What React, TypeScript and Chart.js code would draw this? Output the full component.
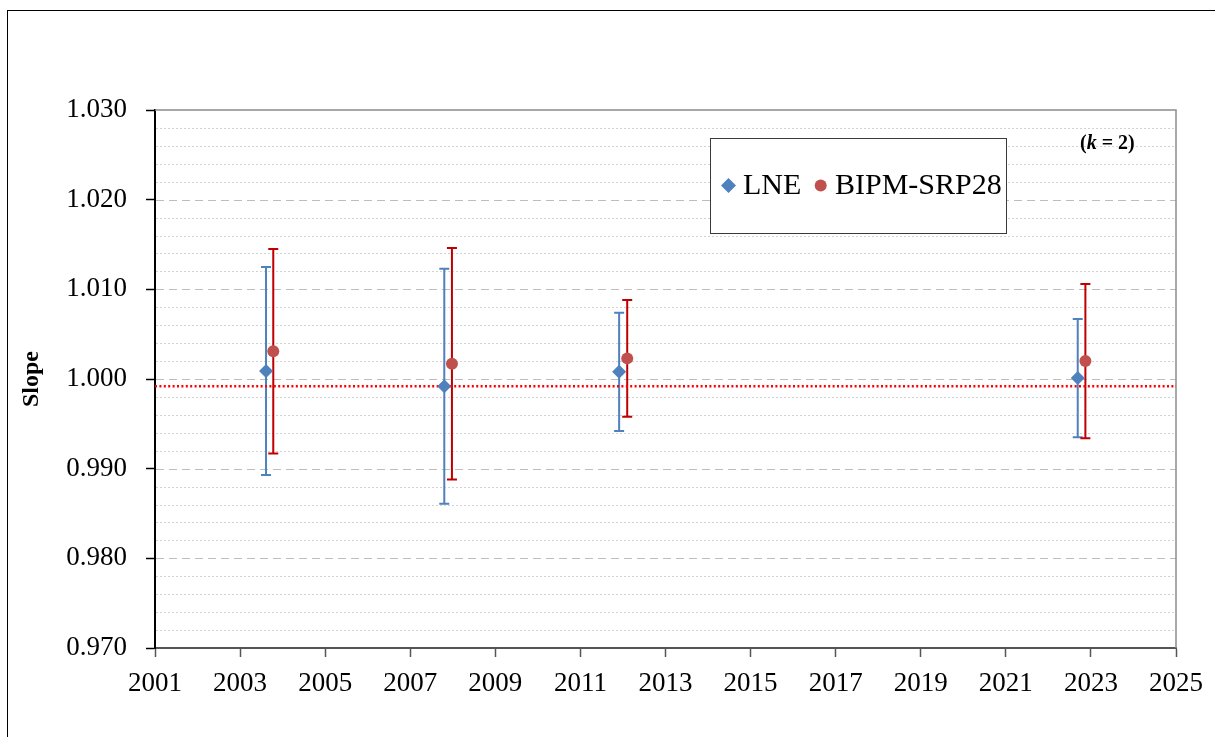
import React, { useEffect, useRef } from "react";
import { Chart, registerables } from "chart.js";

Chart.register(...registerables);

// ---- data ----
const X_MIN = 2001;
const X_MAX = 2025;
const X_STEP = 2;
const Y_MIN = 0.97;
const Y_MAX = 1.03;
const Y_STEP = 0.01;
const Y_MINOR_STEP = 0.002;

const SERIES_LABELS = ["LNE", "BIPM-SRP28"];
const Y_TITLE = "Slope";
const NOTE_PARTS = ["(", "k", " = 2)"];

const LNE_YEARS = [2003.61, 2007.8, 2011.91, 2022.69];
const LNE_SLOPE = [1.0009, 0.9992, 1.0008, 1.0001];
const LNE_U = [0.0116, 0.0131, 0.0066, 0.0066];

const BIPM_YEARS = [2003.78, 2007.98, 2012.1, 2022.87];
const BIPM_SLOPE = [1.0031, 1.0017, 1.0023, 1.002];
const BIPM_U = [0.0114, 0.0129, 0.0065, 0.0086];

const REF_SLOPE = 0.9992;

// ---- styles ----
const FONT = "'Liberation Serif', 'Times New Roman', serif";
const BLUE = "#4F81BD";
const BLUE_BAR = "#4F81BD";
const RED = "#C0504D";
const RED_BAR = "#C00000";

const drawDiamond = (ctx: CanvasRenderingContext2D, x: number, y: number, r: number, color: string) => {
  ctx.beginPath();
  ctx.moveTo(x, y - r);
  ctx.lineTo(x + r, y);
  ctx.lineTo(x, y + r);
  ctx.lineTo(x - r, y);
  ctx.closePath();
  ctx.fillStyle = color;
  ctx.fill();
};

const drawCircle = (ctx: CanvasRenderingContext2D, x: number, y: number, r: number, color: string) => {
  ctx.beginPath();
  ctx.arc(x, y, r, 0, Math.PI * 2);
  ctx.fillStyle = color;
  ctx.fill();
};

const decorPlugin = {
  id: "decor",
  beforeDraw(chart: any) {
    const ctx = chart.ctx;
    ctx.save();
    ctx.fillStyle = "#ffffff";
    ctx.fillRect(0, 0, chart.width, chart.height);
    ctx.restore();
  },
  beforeDatasetsDraw(chart: any) {
    const { ctx, chartArea: ca, scales } = chart;
    const x = scales.x;
    const y = scales.y;
    ctx.save();
    // horizontal grid lines
    const n = Math.round((Y_MAX - Y_MIN) / Y_MINOR_STEP);
    const perMajor = Math.round(Y_STEP / Y_MINOR_STEP);
    for (let i = 1; i < n; i++) {
      const v = Y_MIN + i * Y_MINOR_STEP;
      const py = Math.round(y.getPixelForValue(v)) + 0.5;
      const major = i % perMajor === 0;
      ctx.beginPath();
      ctx.lineWidth = 1;
      ctx.strokeStyle = major ? "#bdbdbd" : "#d2d2d2";
      ctx.setLineDash(major ? [8, 5] : [2, 2]);
      ctx.moveTo(ca.left + 1, py);
      ctx.lineTo(ca.right, py);
      ctx.stroke();
    }
    ctx.setLineDash([]);
    // top and right frame
    ctx.beginPath();
    ctx.strokeStyle = "#8c8c8c";
    ctx.lineWidth = 1.5;
    ctx.moveTo(ca.left, ca.top);
    ctx.lineTo(ca.right, ca.top);
    ctx.lineTo(ca.right, ca.bottom);
    ctx.stroke();

    // error bars
    const drawBars = (xs: number[], vs: number[], us: number[], color: string) => {
      ctx.strokeStyle = color;
      ctx.lineWidth = 2;
      for (let i = 0; i < xs.length; i++) {
        const px = x.getPixelForValue(xs[i]);
        const top = y.getPixelForValue(vs[i] + us[i]);
        const bot = y.getPixelForValue(vs[i] - us[i]);
        ctx.beginPath();
        ctx.moveTo(px, top);
        ctx.lineTo(px, bot);
        ctx.moveTo(px - 5, top);
        ctx.lineTo(px + 5, top);
        ctx.moveTo(px - 5, bot);
        ctx.lineTo(px + 5, bot);
        ctx.stroke();
      }
    };
    drawBars(LNE_YEARS, LNE_SLOPE, LNE_U, BLUE_BAR);
    drawBars(BIPM_YEARS, BIPM_SLOPE, BIPM_U, RED_BAR);
    ctx.restore();
  },
  afterDraw(chart: any) {
    const ctx = chart.ctx;
    ctx.save();
    // legend box
    ctx.fillStyle = "#ffffff";
    ctx.fillRect(710.5, 138.5, 296, 95);
    ctx.strokeStyle = "#3a3a3a";
    ctx.lineWidth = 1;
    ctx.strokeRect(710.5, 138.5, 296, 95);
    drawDiamond(ctx, 728.5, 185.5, 7.5, BLUE);
    drawCircle(ctx, 820.7, 185.5, 6, RED);
    ctx.fillStyle = "#000";
    ctx.font = `30px ${FONT}`;
    ctx.textBaseline = "middle";
    ctx.textAlign = "left";
    ctx.fillText(SERIES_LABELS[0], 743, 186);
    ctx.fillText(SERIES_LABELS[1], 835, 186);

    // note (k = 2)
    let nx = 1080;
    const ny = 144;
    const fonts = [`bold 20px ${FONT}`, `italic bold 20px ${FONT}`, `bold 20px ${FONT}`];
    NOTE_PARTS.forEach((t, i) => {
      ctx.font = fonts[i];
      ctx.fillText(t, nx, ny);
      nx += ctx.measureText(t).width;
    });

    // outer border
    ctx.strokeStyle = "#000";
    ctx.lineWidth = 1;
    ctx.strokeRect(7.5, 10.5, 1400, 1000);
    ctx.restore();
  },
};

export default function App() {
  const ref = useRef<HTMLCanvasElement | null>(null);

  useEffect(() => {
    document.body.style.margin = "0";
    const canvas = ref.current;
    if (!canvas) return;
    Chart.defaults.font.family = FONT;
    Chart.defaults.color = "#000";

    const chart = new Chart(canvas, {
      type: "scatter",
      data: {
        datasets: [
          {
            label: SERIES_LABELS[0],
            data: LNE_YEARS.map((yr, i) => ({ x: yr, y: LNE_SLOPE[i] })),
            pointStyle: "rectRot",
            pointRadius: 7,
            pointHoverRadius: 7,
            backgroundColor: BLUE,
            borderColor: BLUE,
            borderWidth: 0,
          },
          {
            label: SERIES_LABELS[1],
            data: BIPM_YEARS.map((yr, i) => ({ x: yr, y: BIPM_SLOPE[i] })),
            pointStyle: "circle",
            pointRadius: 6,
            pointHoverRadius: 6,
            backgroundColor: RED,
            borderColor: RED,
            borderWidth: 0,
          },
          {
            label: "ref",
            data: [
              { x: X_MIN, y: REF_SLOPE },
              { x: X_MAX, y: REF_SLOPE },
            ],
            showLine: true,
            pointRadius: 0,
            borderColor: "#FF0000",
            borderWidth: 2.5,
            borderDash: [2, 2.4],
          } as any,
        ],
      },
      options: {
        responsive: false,
        animation: false,
        events: [],
        layout: { padding: { left: 0, top: 110, right: 39, bottom: 29 } },
        plugins: {
          legend: { display: false },
          tooltip: { enabled: false },
        },
        scales: {
          x: {
            type: "linear",
            min: X_MIN,
            max: X_MAX,
            afterFit: (s: any) => {
              s.height = 60;
            },
            ticks: {
              stepSize: X_STEP,
              padding: 11,
              color: "#000",
              font: { size: 27, family: FONT },
              callback: (v: any) => String(v),
              maxRotation: 0,
              autoSkip: false,
            },
            grid: {
              drawOnChartArea: false,
              drawTicks: true,
              tickLength: 9,
              tickColor: "#555",
              tickWidth: 1.5,
            },
            border: { display: true, color: "#555", width: 2 },
          },
          y: {
            type: "linear",
            min: Y_MIN,
            max: Y_MAX,
            afterFit: (s: any) => {
              s.width = 155;
            },
            ticks: {
              stepSize: Y_STEP,
              padding: 19,
              color: "#000",
              font: { size: 27, family: FONT },
              callback: (v: any) => Number(v).toFixed(3),
            },
            grid: {
              drawOnChartArea: false,
              drawTicks: true,
              tickLength: 9,
              tickColor: "#000",
              tickWidth: 1.5,
            },
            border: { display: true, color: "#000", width: 2 },
            title: {
              display: true,
              text: Y_TITLE,
              color: "#000",
              font: { size: 24, weight: "bold", family: FONT },
              padding: { top: 17, bottom: 0 },
            },
          },
        },
      },
      plugins: [decorPlugin],
    });
    return () => chart.destroy();
  }, []);

  return (
    <div style={{ width: 1215, height: 737 }}>
      <canvas ref={ref} width={1215} height={737} style={{ display: "block" }} />
    </div>
  );
}
